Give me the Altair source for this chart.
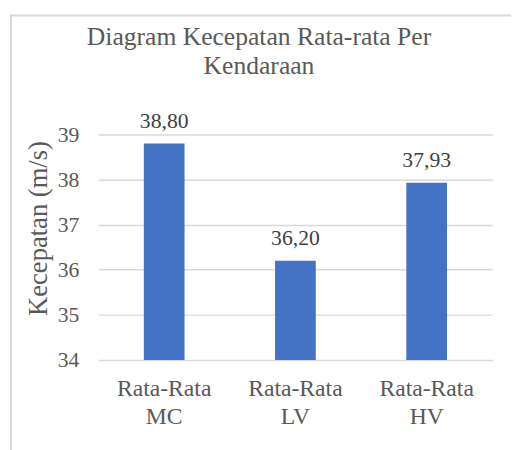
import altair as alt
import pandas as pd

title_lines = ["Diagram Kecepatan Rata-rata Per", "Kendaraan"]
categories = ["Rata-Rata MC", "Rata-Rata LV", "Rata-Rata HV"]
values = [38.80, 36.20, 37.93]
value_labels = ["38,80", "36,20", "37,93"]
y_ticks = [34, 35, 36, 37, 38, 39]

df = pd.DataFrame({"cat": categories, "val": values, "lab": value_labels})
one = pd.DataFrame({"k": [0]})

FONT = "Liberation Serif"
TXT = "#595959"

x_enc = alt.X(
    "cat:N",
    sort=categories,
    scale=alt.Scale(paddingInner=0.69, paddingOuter=0.345),
    axis=alt.Axis(
        title=None,
        labelAngle=0,
        labelExpr="split(datum.label, ' ')",
        labelFont=FONT,
        labelFontSize=24,
        labelColor=TXT,
        labelBaseline="top",
        labelLineHeight=29,
        labelPadding=17,
        ticks=False,
        domain=False,
        grid=False,
    ),
)

y_enc = alt.Y(
    "val:Q",
    scale=alt.Scale(domain=[34, 39], zero=False, nice=False),
    axis=alt.Axis(
        values=y_ticks,
        title="Kecepatan (m/s)",
        titleFont=FONT,
        titleFontSize=27,
        titleFontWeight="normal",
        titleColor=TXT,
        titleX=-53,
        titleY=95,
        titleAngle=270,
        titleAlign="center",
        titleBaseline="alphabetic",
        labelFont=FONT,
        labelFontSize=22,
        labelColor=TXT,
        labelPadding=20,
        ticks=False,
        domain=False,
        grid=True,
        gridColor="#d9d9d9",
        gridWidth=1.5,
    ),
)

bars = alt.Chart(df).mark_bar(color="#4472C4").encode(
    x=x_enc,
    y=y_enc,
    y2=alt.datum(34),
)

labels = alt.Chart(df).mark_text(
    font=FONT, fontSize=22, color="#404040", baseline="alphabetic", dy=-16
).encode(
    x=alt.X("cat:N", sort=categories),
    y="val:Q",
    text="lab:N",
)

border = alt.Chart(one).mark_rect(
    fill=None, stroke="#d9d9d9", strokeWidth=2
).encode(
    x=alt.value(-89),
    x2=alt.value(700),
    y=alt.value(-121),
    y2=alt.value(700),
)

title = alt.Chart(one).mark_text(
    text=title_lines,
    font=FONT,
    fontSize=26,
    color=TXT,
    align="center",
    baseline="alphabetic",
    lineHeight=30,
).encode(
    x=alt.value(163),
    y=alt.value(-91),
)

chart = alt.layer(border, bars, labels, title).properties(
    width=400,
    height=229,
    autosize=alt.AutoSizeParams(type="none"),
    padding={"left": 92, "top": 125, "right": 19, "bottom": 88},
).configure_view(stroke=None)

chart.save("out.html", embed_options={"renderer": "svg", "actions": False})
